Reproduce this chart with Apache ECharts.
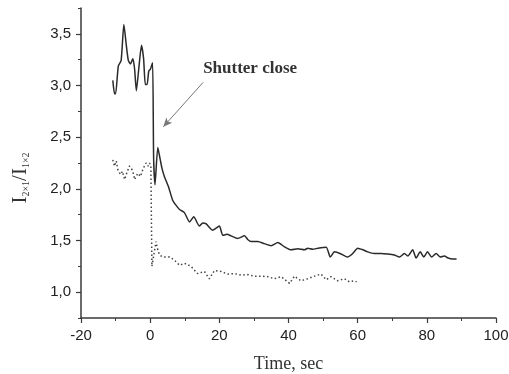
<!DOCTYPE html>
<html>
<head>
<meta charset="utf-8">
<script src="https://cdn.jsdelivr.net/npm/echarts@6/dist/echarts.min.js"></script>
<style>html,body{margin:0;padding:0;background:#fff}#c{width:509px;height:374px}</style>
</head>
<body>
<div id="c"></div>
<script>
// Solid curve
var solidTime = [-10.8,-10.3,-10.0,-9.2,-8.4,-7.6,-6.9,-6.3,-5.7,-5.0,-4.5,-4.0,-3.3,-2.5,-1.9,-1.4,-0.9,-0.4,0.1,0.7,1.0,1.4,2.2,2.7,3.4,4.1,5.3,6.5,7.5,8.5,9.9,11.4,12.6,14.2,15.2,16.2,18.1,20.0,21.0,22.2,23.4,25.3,27.3,28.2,29.2,31.1,33.0,35.0,36.9,38.8,40.8,42.7,44.6,45.6,47.0,48.5,50.9,52.1,53.3,55.2,57.1,58.6,60.0,61.5,62.9,64.8,66.8,68.7,70.6,72.1,73.5,74.5,75.9,76.9,78.1,79.1,80.2,81.4,82.7,83.9,85.1,86.1,87.5,88.6];
var solidValue = [3.05,2.92,2.92,3.19,3.24,3.59,3.39,3.24,3.21,3.26,3.16,2.95,3.16,3.39,3.26,3.01,3.01,3.14,3.16,3.22,2.30,2.04,2.40,2.32,2.20,2.12,2.02,1.89,1.84,1.80,1.77,1.68,1.73,1.64,1.67,1.66,1.60,1.64,1.55,1.56,1.545,1.52,1.545,1.51,1.49,1.49,1.47,1.45,1.48,1.44,1.41,1.42,1.41,1.425,1.415,1.425,1.435,1.34,1.39,1.37,1.34,1.375,1.425,1.41,1.39,1.375,1.375,1.37,1.36,1.34,1.375,1.35,1.41,1.33,1.39,1.34,1.39,1.34,1.375,1.34,1.35,1.33,1.32,1.32];
// Dotted curve
var dottedTime = [-10.8,-10.3,-9.8,-9.4,-8.6,-8.0,-7.4,-6.8,-6.0,-5.5,-5.0,-4.5,-3.6,-2.8,-2.1,-1.2,-0.6,-0.2,0.2,0.5,1.0,1.7,2.2,2.7,3.7,5.6,7.0,8.5,9.9,11.8,13.7,15.7,17.1,18.6,20.5,22.4,24.4,26.3,28.2,30.1,32.1,34.0,35.9,37.9,40.3,41.7,43.6,45.6,47.5,49.4,50.9,52.3,54.2,56.2,57.6,59.0,59.7];
var dottedValue = [2.28,2.22,2.27,2.19,2.14,2.17,2.09,2.15,2.22,2.20,2.17,2.09,2.15,2.12,2.19,2.25,2.22,2.25,2.22,1.25,1.35,1.49,1.41,1.36,1.34,1.34,1.31,1.26,1.28,1.25,1.18,1.20,1.13,1.21,1.20,1.175,1.18,1.165,1.17,1.155,1.155,1.15,1.13,1.15,1.085,1.155,1.11,1.13,1.155,1.175,1.12,1.15,1.11,1.13,1.10,1.11,1.10];
// Axes
var xTicks = [-20,0,20,40,60,80,100];
var yTickLabels = [1.0,1.5,2.0,2.5,3.0,3.5];
// Annotation
var annotText = 'Shutter close';
var arrowFrom = [15.3, 3.03];
var arrowTo = [3.8, 2.60];
var annotPos = [28.9, 3.16];

function zip(a,b){return a.map(function(v,i){return [v,b[i]];});}

var chart = echarts.init(document.getElementById('c'));
var axisColor = '#3a3a3a';
chart.setOption({
  animation:false,
  backgroundColor:'#fff',
  grid:{left:81,right:13,top:8,bottom:56,outerBoundsMode:'none',containLabel:false},
  xAxis:{
    type:'value', min:xTicks[0], max:xTicks[xTicks.length-1], interval:20,
    axisLine:{onZero:false,lineStyle:{color:axisColor,width:1.5}},
    axisTick:{length:5,lineStyle:{color:axisColor,width:1.2}},
    minorTick:{show:true,splitNumber:2,length:3,lineStyle:{color:axisColor,width:1}},
    splitLine:{show:false},
    axisLabel:{color:'#222',fontSize:15,fontFamily:'Liberation Sans, Arial',margin:10},
    name:'Time, sec', nameLocation:'middle', nameGap:37, nameMoveOverlap:false,
    nameTextStyle:{fontFamily:'Liberation Serif, Times New Roman',fontSize:18,color:'#333',verticalAlign:'top'}
  },
  yAxis:[{
    type:'value', min:0.75, max:3.75, interval:0.25,
    axisLine:{show:true,onZero:false,lineStyle:{color:axisColor,width:1.5}},
    axisTick:{show:true,length:3,lineStyle:{color:axisColor,width:1}},
    splitLine:{show:false},
    axisLabel:{color:'#222',fontSize:15,fontFamily:'Liberation Sans, Arial',margin:10,
      formatter:function(v){var h=Math.round(v*2)/2; if(Math.abs(h-v)>1e-6||v>3.6||v<0.9) return ''; return v.toFixed(1).replace('.',',');}},
    name:'{I|I}{s|2×1}{I|/I}{s|1×2}', nameLocation:'middle', nameRotate:90, nameGap:50, nameMoveOverlap:false,
    nameTextStyle:{color:'#333',padding:[0,30,0,0],rich:{
      I:{fontFamily:'Liberation Serif, Times New Roman',fontSize:21,color:'#333'},
      s:{fontFamily:'Liberation Serif, Times New Roman',fontSize:10,color:'#333',verticalAlign:'bottom',padding:[8,0,0,0]}
    }}
  },{
    type:'value', min:0.75, max:3.75, position:'left', offset:0,
    axisLine:{show:false,onZero:false},
    axisTick:{show:true,length:5,customValues:yTickLabels,lineStyle:{color:axisColor,width:1.2}},
    axisLabel:{show:false},
    splitLine:{show:false}
  }],
  series:[{
    type:'line', data:zip(solidTime,solidValue), showSymbol:false, symbol:'none', smooth:0.2,
    lineStyle:{color:'#2a2a2a',width:1.5}, z:3,
    markLine:{silent:true,symbol:['none','arrow'],symbolSize:[6,9],
      lineStyle:{color:'#777',width:1,type:'solid'},label:{show:false},
      data:[[{coord:arrowFrom},{coord:arrowTo}]]},
    markPoint:{silent:true,symbol:'circle',symbolSize:0,
      label:{show:true,formatter:annotText,fontFamily:'Liberation Serif, Times New Roman',fontWeight:'bold',fontSize:17,color:'#333',position:'inside'},
      data:[{coord:annotPos}]}
  },{
    type:'line', data:zip(dottedTime,dottedValue), showSymbol:false, symbol:'none',
    lineStyle:{color:'#444',width:1.5,type:[1.5,2.5]}
  }]
});
</script>
</body>
</html>
